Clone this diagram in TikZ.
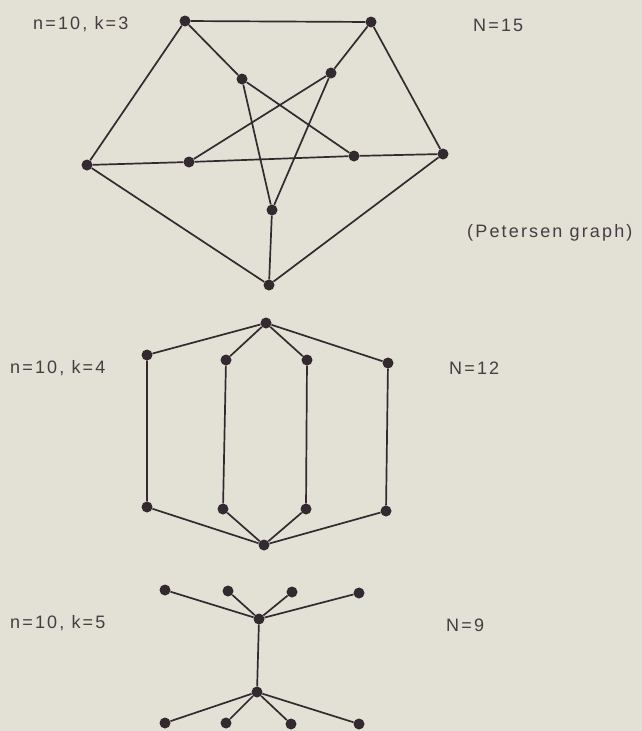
\documentclass[tikz,border=0pt]{standalone}
\usepackage{fontspec}
\setmainfont[LetterSpace=12]{Liberation Sans}
\definecolor{paper}{RGB}{227,225,214}
\definecolor{ink}{RGB}{50,42,46}
\definecolor{txt}{RGB}{70,60,66}
\begin{document}
\begin{tikzpicture}[x=1pt,y=-1pt,
  v/.style={circle,fill=ink,inner sep=0pt,minimum size=11pt},
  edge/.style={draw=ink,line width=1.7pt},
  lbl/.style={anchor=west,inner sep=0pt,text=txt,font=\fontsize{18}{20}\selectfont}]
\fill[paper] (0,0) rectangle (642,731);
\useasboundingbox (0,0) rectangle (642,731);
% Petersen graph
\node[v] (o1) at (185,21) {};
\node[v] (o2) at (371,22) {};
\node[v] (o3) at (443,154) {};
\node[v] (o4) at (269,285) {};
\node[v] (o5) at (87,165) {};
\node[v] (i1) at (242,79) {};
\node[v] (i2) at (331,73) {};
\node[v] (i3) at (354,156) {};
\node[v] (i4) at (272,210) {};
\node[v] (i5) at (189,162) {};
\draw[edge] (o1)--(o2) (o2)--(o3) (o3)--(o4) (o4)--(o5) (o5)--(o1);
\draw[edge] (o1)--(i1) (o2)--(i2) (o3)--(i3) (o4)--(i4) (o5)--(i5);
\draw[edge] (i1)--(i3) (i3)--(i5) (i5)--(i2) (i2)--(i4) (i4)--(i1);
% second graph
\node[v] (t) at (266,323) {};
\node[v] (a1) at (147,355) {};
\node[v] (a2) at (226,360) {};
\node[v] (a3) at (307,360) {};
\node[v] (a4) at (388,363) {};
\node[v] (b1) at (147,507) {};
\node[v] (b2) at (223,509) {};
\node[v] (b3) at (306,509) {};
\node[v] (b4) at (386,511) {};
\node[v] (b) at (264,545) {};
\draw[edge] (t)--(a1) (t)--(a2) (t)--(a3) (t)--(a4);
\draw[edge] (a1)--(b1) (a2)--(b2) (a3)--(b3) (a4)--(b4);
\draw[edge] (b)--(b1) (b)--(b2) (b)--(b3) (b)--(b4);
% third graph
\node[v] (h1) at (259,619) {};
\node[v] (l1) at (165,590) {};
\node[v] (l2) at (228,591) {};
\node[v] (l3) at (292,592) {};
\node[v] (l4) at (359,593) {};
\node[v] (h2) at (257,692) {};
\node[v] (m1) at (165,723) {};
\node[v] (m2) at (226,723) {};
\node[v] (m3) at (291,724) {};
\node[v] (m4) at (359,724) {};
\draw[edge] (h1)--(l1) (h1)--(l2) (h1)--(l3) (h1)--(l4) (h1)--(h2);
\draw[edge] (h2)--(m1) (h2)--(m2) (h2)--(m3) (h2)--(m4);
% labels
\node[lbl] (n1) at (33,24) {n=10, k=3};
\node[lbl] (N1) at (473,25) {N=15};
\node[lbl] (pg) at (467,233) {(Petersen graph)};
\node[lbl] (n2) at (10,368) {n=10, k=4};
\node[lbl] (N2) at (449,368) {N=12};
\node[lbl] (n3) at (10,623) {n=10, k=5};
\node[lbl] (N3) at (446,625) {N=9};
\end{tikzpicture}
\end{document}
